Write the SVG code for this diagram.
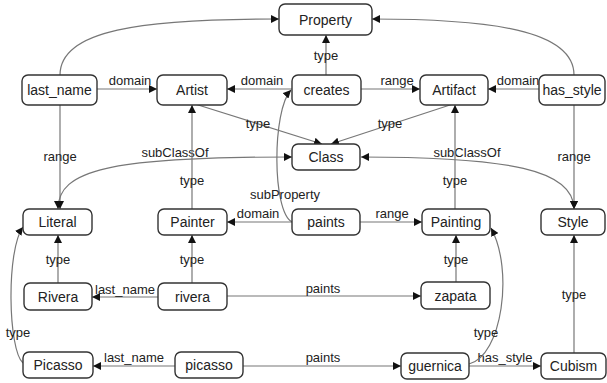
<svg xmlns="http://www.w3.org/2000/svg" width="607" height="383" viewBox="0 0 607 383">
  <defs>
    <marker id="arr" viewBox="0 0 10 10" refX="10" refY="5" markerWidth="8" markerHeight="8" markerUnits="userSpaceOnUse" orient="auto">
      <path d="M0,0 L10,5 L0,10 z" fill="#111"/>
    </marker>
    <marker id="arrStart" viewBox="0 0 10 10" refX="0" refY="5" markerWidth="8" markerHeight="8" markerUnits="userSpaceOnUse" orient="auto">
      <path d="M10,0 L0,5 L10,10 z" fill="#111"/>
    </marker>
  </defs>
  <style>
    .node rect { fill: #fff; stroke: #333; stroke-width: 1.4; }
    .node text { font-family: "Liberation Sans", Arial, sans-serif; font-size: 14px; fill: #222; text-anchor: middle; dominant-baseline: central; }
    .edge { fill: none; stroke: #777; stroke-width: 1.2; marker-end: url(#arr); }
    .both { marker-start: url(#arrStart); }
    .lbl { font-family: "Liberation Sans", Arial, sans-serif; font-size: 13px; fill: #222; text-anchor: middle; }
  </style>
  <rect width="607" height="383" fill="#fff"/>

  <g id="connectors">
    <!-- schema level -->
    <path class="edge" d="M60,75 C60,30 140,19 279,19"/>
    <path class="edge" d="M574,75 C574,30 490,19 372,19"/>
    <path class="edge" d="M97,89 L157,89"/>
    <text class="lbl" x="130" y="85">domain</text>
    <path class="edge" d="M292,89 L227,89"/>
    <text class="lbl" x="262" y="85">domain</text>
    <path class="edge" d="M326,75 L326,35"/>
    <text class="lbl" x="326" y="60">type</text>
    <path class="edge" d="M361,89 L420,89"/>
    <text class="lbl" x="397" y="85">range</text>
    <path class="edge" d="M539,89 L488,89"/>
    <text class="lbl" x="518" y="85">domain</text>
    <path class="edge" d="M195,104 L322,144"/>
    <text class="lbl" x="258" y="128">type</text>
    <path class="edge" d="M453,104 L331,144"/>
    <text class="lbl" x="390" y="128">type</text>
    <path class="edge" d="M60,105 L60,209"/>
    <text class="lbl" x="60" y="161">range</text>
    <path class="edge both" d="M58,209 C58,170 110,157 292,157"/>
    <text class="lbl" x="175" y="157">subClassOf</text>
    <path class="edge both" d="M361,157 C510,157 574,170 574,209"/>
    <text class="lbl" x="467" y="157">subClassOf</text>
    <path class="edge" d="M192,209 L192,105"/>
    <text class="lbl" x="192" y="185">type</text>
    <path class="edge" d="M455,209 L455,105"/>
    <text class="lbl" x="455" y="185">type</text>
    <path class="edge" d="M574,105 L574,209"/>
    <text class="lbl" x="574" y="161">range</text>
    <path class="edge" d="M292,222 C272,212 272,110 291,90"/>
    <text class="lbl" x="285" y="199">subProperty</text>
    <path class="edge" d="M292,222 L227,222"/>
    <text class="lbl" x="258" y="218">domain</text>
    <path class="edge" d="M360,222 L422,222"/>
    <text class="lbl" x="392" y="218">range</text>

    <!-- instance level -->
    <path class="edge" d="M58,283 L58,235"/>
    <text class="lbl" x="58" y="264">type</text>
    <path class="edge" d="M192,283 L192,235"/>
    <text class="lbl" x="192" y="264">type</text>
    <path class="edge" d="M456,282 L456,235"/>
    <text class="lbl" x="456" y="264">type</text>
    <path class="edge" d="M574,353 L574,235"/>
    <text class="lbl" x="574" y="299">type</text>
    <path class="edge" d="M158,297 L92,297"/>
    <text class="lbl" x="125" y="294">last_name</text>
    <path class="edge" d="M227,296 L421,296"/>
    <text class="lbl" x="323" y="293">paints</text>
    <path class="edge" d="M175,366 L93,366"/>
    <text class="lbl" x="134" y="362">last_name</text>
    <path class="edge" d="M243,366 L401,366"/>
    <text class="lbl" x="323" y="362">paints</text>
    <path class="edge" d="M469,366 L541,366"/>
    <text class="lbl" x="505" y="362">has_style</text>
    <path class="edge" d="M469,364 C502,356 514,270 491,228"/>
    <text class="lbl" x="486" y="337">type</text>
    <path class="edge" d="M23,363 C8,350 6,250 23,227"/>
    <text class="lbl" x="18" y="337">type</text>
  </g>

  <g id="Property" class="node"><rect x="279" y="4" width="93" height="31" rx="6"/><text x="325.5" y="19.5">Property</text></g>
  <g id="last_name" class="node"><rect x="22" y="75" width="75" height="30" rx="6"/><text x="59.5" y="90">last_name</text></g>
  <g id="Artist" class="node"><rect x="157" y="75" width="70" height="30" rx="6"/><text x="192" y="90">Artist</text></g>
  <g id="creates" class="node"><rect x="292" y="75" width="69" height="30" rx="6"/><text x="326.5" y="90">creates</text></g>
  <g id="Artifact" class="node"><rect x="420" y="75" width="68" height="30" rx="6"/><text x="454" y="90">Artifact</text></g>
  <g id="has_style" class="node"><rect x="539" y="75" width="66" height="30" rx="6"/><text x="572" y="90">has_style</text></g>
  <g id="Class" class="node"><rect x="292" y="144" width="68" height="26" rx="6"/><text x="326" y="157">Class</text></g>
  <g id="Literal" class="node"><rect x="23" y="209" width="69" height="26" rx="6"/><text x="57.5" y="222">Literal</text></g>
  <g id="Painter" class="node"><rect x="158" y="209" width="69" height="26" rx="6"/><text x="192.5" y="222">Painter</text></g>
  <g id="paints" class="node"><rect x="292" y="209" width="68" height="26" rx="6"/><text x="326" y="222">paints</text></g>
  <g id="Painting" class="node"><rect x="422" y="209" width="68" height="26" rx="6"/><text x="456" y="222">Painting</text></g>
  <g id="Style" class="node"><rect x="541" y="209" width="64" height="26" rx="6"/><text x="573" y="222">Style</text></g>
  <g id="Rivera" class="node"><rect x="24" y="283" width="68" height="27" rx="6"/><text x="58" y="296.5">Rivera</text></g>
  <g id="rivera" class="node"><rect x="158" y="283" width="69" height="27" rx="6"/><text x="192.5" y="296.5">rivera</text></g>
  <g id="zapata" class="node"><rect x="421" y="282" width="69" height="27" rx="6"/><text x="455.5" y="295.5">zapata</text></g>
  <g id="Picasso" class="node"><rect x="23" y="352" width="70" height="26" rx="6"/><text x="58" y="365">Picasso</text></g>
  <g id="picasso" class="node"><rect x="175" y="352" width="68" height="26" rx="6"/><text x="209" y="365">picasso</text></g>
  <g id="guernica" class="node"><rect x="401" y="353" width="68" height="26" rx="6"/><text x="435" y="366">guernica</text></g>
  <g id="Cubism" class="node"><rect x="541" y="353" width="65" height="26" rx="6"/><text x="573.5" y="366">Cubism</text></g>
</svg>
